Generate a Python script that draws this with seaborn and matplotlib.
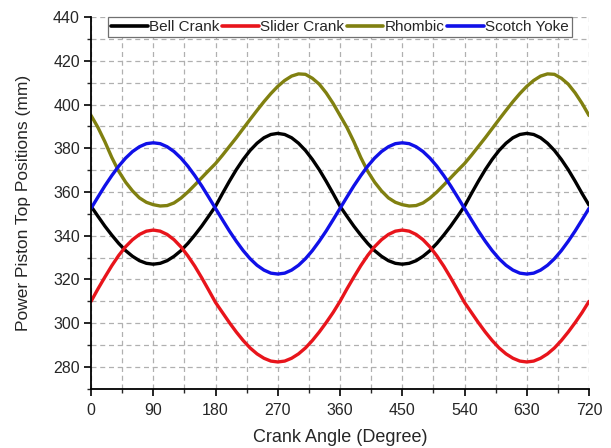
import numpy as np
import pandas as pd
import matplotlib
matplotlib.use("Agg")
import matplotlib.pyplot as plt
import seaborn as sns
from matplotlib.ticker import MultipleLocator

angles = list(range(0, 721, 10))

bell_crank = [353.5, 348.9, 344.4, 340.3, 336.5, 333.2, 330.6, 328.6, 327.4, 327.0,
              327.4, 328.6, 330.6, 333.2, 336.5, 340.3, 344.4, 348.9, 353.5,
              359.3, 364.9, 370.2, 374.9, 379.0, 382.3, 384.8, 386.3, 386.8,
              386.3, 384.8, 382.3, 379.0, 374.9, 370.2, 364.9, 359.3,
              353.5, 348.9, 344.4, 340.3, 336.5, 333.2, 330.6, 328.6, 327.4, 327.0,
              327.4, 328.6, 330.6, 333.2, 336.5, 340.3, 344.4, 348.9, 353.5,
              359.3, 364.9, 370.2, 374.9, 379.0, 382.3, 384.8, 386.3, 386.8,
              386.3, 384.8, 382.3, 379.0, 374.9, 370.2, 364.9, 359.3, 354.0]

slider_crank = [310.0, 315.7, 321.1, 326.3, 331.0, 335.0, 338.2, 340.6, 342.1, 342.6,
                342.1, 340.6, 338.2, 334.9, 330.8, 326.1, 320.8, 315.2, 309.5,
                304.9, 300.3, 296.0, 292.1, 288.7, 286.0, 284.0, 282.7, 282.3,
                282.7, 284.0, 286.0, 288.7, 292.1, 296.0, 300.3, 304.9,
                310.0, 315.7, 321.1, 326.3, 331.0, 335.0, 338.2, 340.6, 342.1, 342.6,
                342.1, 340.6, 338.2, 334.9, 330.8, 326.1, 320.8, 315.2, 309.5,
                304.9, 300.3, 296.0, 292.1, 288.7, 286.0, 284.0, 282.7, 282.3,
                282.7, 284.0, 286.0, 288.7, 292.1, 296.0, 300.3, 304.9, 310.0]

rhombic = [395.0, 389.5, 383.0, 375.8, 369.5, 364.5, 360.5, 357.3, 355.3, 354.2,
           353.6, 353.8, 355.0, 357.2, 360.0, 363.2, 366.5, 369.8, 373.0,
           376.8, 380.8, 384.8, 389.0, 393.2, 397.3, 401.3, 405.0, 408.3,
           411.0, 413.0, 414.0, 413.8, 412.0, 409.3, 405.3, 400.5,
           395.0, 389.5, 383.0, 375.8, 369.5, 364.5, 360.5, 357.3, 355.3, 354.2,
           353.6, 353.8, 355.0, 357.2, 360.0, 363.2, 366.5, 369.8, 373.0,
           376.8, 380.8, 384.8, 389.0, 393.2, 397.3, 401.3, 405.0, 408.3,
           411.0, 413.0, 414.0, 413.8, 412.0, 409.3, 405.3, 400.5, 395.0]

scotch_yoke = [352.5, 357.7, 362.8, 367.5, 371.8, 375.5, 378.5, 380.7, 382.1, 382.5,
               382.1, 380.7, 378.5, 375.5, 371.8, 367.5, 362.8, 357.7, 352.5,
               347.3, 342.2, 337.5, 333.2, 329.5, 326.5, 324.3, 322.9, 322.5,
               322.9, 324.3, 326.5, 329.5, 333.2, 337.5, 342.2, 347.3,
               352.5, 357.7, 362.8, 367.5, 371.8, 375.5, 378.5, 380.7, 382.1, 382.5,
               382.1, 380.7, 378.5, 375.5, 371.8, 367.5, 362.8, 357.7, 352.5,
               347.3, 342.2, 337.5, 333.2, 329.5, 326.5, 324.3, 322.9, 322.5,
               322.9, 324.3, 326.5, 329.5, 333.2, 337.5, 342.2, 347.3, 352.5]

series_names = ["Bell Crank", "Slider Crank", "Rhombic", "Scotch Yoke"]
series_values = [bell_crank, slider_crank, rhombic, scotch_yoke]
colors = ["#000000", "#e8141b", "#808010", "#1010e8"]

x_ticks = [0, 90, 180, 270, 360, 450, 540, 630, 720]
y_ticks = [280, 300, 320, 340, 360, 380, 400, 420, 440]

frames = []
for name, vals in zip(series_names, series_values):
    frames.append(pd.DataFrame({"angle": angles, "pos": vals, "mech": name}))
df = pd.concat(frames, ignore_index=True)

sns.set_style("white")
plt.rcParams["font.family"] = ["Liberation Sans", "DejaVu Sans"]

fig = plt.figure(figsize=(6.11, 4.48), dpi=100)
ax = fig.add_axes([0.149, 0.132, 0.815, 0.830])

sns.lineplot(data=df, x="angle", y="pos", hue="mech", hue_order=series_names,
             palette=colors, linewidth=2.4, ax=ax, legend=False, sort=False)
for ln in ax.get_lines():
    ln.set_solid_joinstyle("round")
    ln.set_solid_capstyle("round")

ax.set_xlim(0, 720)
ax.set_ylim(270, 440)
ax.set_xticks(x_ticks)
ax.set_yticks(y_ticks)
ax.xaxis.set_minor_locator(MultipleLocator(45))
ax.yaxis.set_minor_locator(MultipleLocator(10))
ax.tick_params(axis="both", which="major", direction="out", length=5, width=1.2,
               labelsize=11.5, color="black", bottom=True, left=True)
ax.tick_params(axis="x", which="major", pad=5)
ax.tick_params(axis="y", which="major", pad=3)
ax.tick_params(axis="both", which="minor", direction="out", length=3, width=1.0,
               bottom=True, left=True)

ax.grid(True, which="both", linestyle=(0, (4, 3)), color="#b0b0b0", linewidth=0.9)
ax.set_axisbelow(True)

for s in ["top", "right"]:
    ax.spines[s].set_visible(False)
for s in ["left", "bottom"]:
    ax.spines[s].set_color("black")
    ax.spines[s].set_linewidth(1.3)

ax.set_xlabel("Crank Angle (Degree)", fontsize=13, labelpad=8)
ax.set_ylabel("Power Piston Top Positions (mm)", fontsize=12.5, labelpad=16)

handles = [plt.Line2D([], [], color=c, linewidth=2.6) for c in colors]
leg = ax.legend(handles, series_names, loc="upper center", bbox_to_anchor=(0.5, 1.0),
                ncol=4, fontsize=11, frameon=True, fancybox=False, handlelength=2.4,
                handletextpad=0.1, columnspacing=0.15, borderpad=0.2, borderaxespad=0.0)
leg.get_frame().set_edgecolor("#707070")
leg.get_frame().set_linewidth(0.9)
leg.get_frame().set_facecolor("white")
leg.get_frame().set_alpha(1)

fig.savefig("out.png", dpi=100)
